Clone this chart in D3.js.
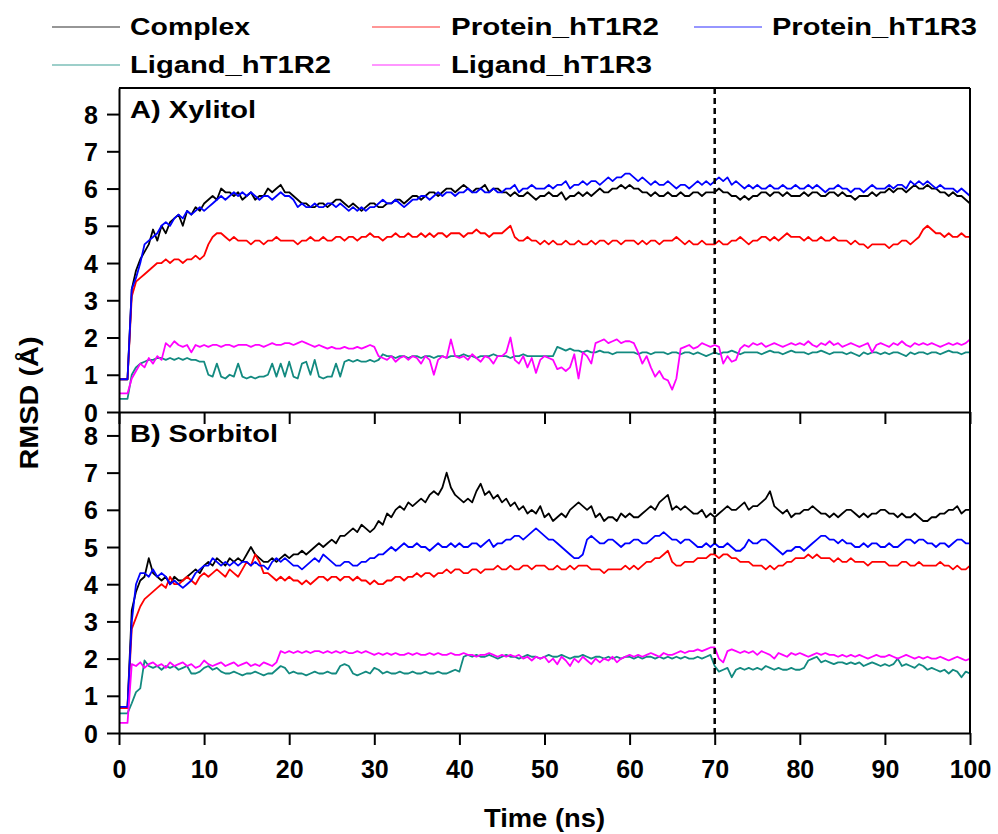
<!DOCTYPE html>
<html><head><meta charset="utf-8">
<script src="https://cdn.jsdelivr.net/npm/d3@7"></script>
<style>
body{margin:0;background:#fff}
svg{display:block}
text{font-family:"Liberation Sans",Arial,sans-serif;font-weight:bold;fill:#000}
</style>
</head><body>
<svg id="chart" width="998" height="834"></svg>
<script>
// sampling interval of every series (ns)
const timeStep = 0.5;

// ---------- Panel A: Xylitol ----------
const complexA = [
0.88,0.88,0.88,3.3,3.8,4.1,4.3,4.5,4.9,4.6,
5.0,4.8,5.1,5.2,5.3,5.0,5.4,5.3,5.5,5.4,
5.6,5.7,5.8,5.7,6.0,5.9,5.9,5.8,5.9,5.7,
5.8,5.9,5.7,5.8,5.8,6.0,5.9,6.0,6.1,5.9,
5.9,5.8,5.7,5.6,5.6,5.5,5.5,5.6,5.6,5.5,
5.6,5.7,5.7,5.6,5.5,5.6,5.5,5.4,5.5,5.6,
5.6,5.5,5.5,5.6,5.6,5.7,5.7,5.6,5.7,5.8,
5.8,5.7,5.8,5.9,5.9,5.8,5.9,6.0,6.0,5.9,
6.0,6.1,6.0,5.9,6.0,6.0,6.1,5.9,6.0,6.0,
5.9,5.9,5.8,5.9,5.8,5.8,5.9,5.8,5.7,5.8,
5.8,5.9,5.8,5.8,5.9,5.7,5.8,5.8,5.9,5.8,
5.9,5.8,5.9,6.0,5.9,5.9,6.0,6.0,6.1,6.0,
6.1,6.0,6.0,5.9,5.9,5.8,5.9,5.8,5.8,5.9,
5.8,5.8,5.9,5.8,5.8,5.9,5.9,5.8,5.9,5.9,
5.9,6.0,5.9,5.9,5.8,5.8,5.7,5.8,5.7,5.8,
5.8,5.9,5.9,5.8,5.9,5.9,5.8,5.9,5.8,5.8,
5.8,5.9,5.8,5.9,5.9,5.8,5.8,5.9,5.9,5.8,
5.9,5.8,5.8,5.7,5.8,5.8,5.8,5.9,5.8,5.9,
5.9,6.0,5.9,6.0,6.0,5.9,6.0,6.1,6.0,6.0,
6.1,6.0,6.0,5.9,5.9,5.8,5.9,5.8,5.8,5.7,
5.6];
const proteinR2A = [
0.88,0.88,0.88,3.1,3.5,3.6,3.7,3.8,3.9,4.0,
4.0,4.1,4.0,4.1,4.1,4.0,4.1,4.1,4.2,4.1,
4.2,4.5,4.7,4.8,4.8,4.7,4.6,4.7,4.6,4.6,
4.6,4.5,4.6,4.6,4.5,4.6,4.6,4.7,4.6,4.6,
4.6,4.6,4.5,4.6,4.6,4.7,4.6,4.6,4.7,4.6,
4.6,4.7,4.7,4.6,4.7,4.7,4.6,4.7,4.7,4.8,
4.7,4.7,4.6,4.7,4.7,4.8,4.7,4.7,4.8,4.7,
4.7,4.8,4.7,4.8,4.7,4.8,4.8,4.7,4.8,4.8,
4.8,4.7,4.8,4.8,4.9,4.8,4.8,4.7,4.8,4.8,
4.8,4.9,5.0,4.7,4.6,4.6,4.7,4.6,4.6,4.5,
4.6,4.5,4.6,4.5,4.5,4.6,4.5,4.5,4.6,4.5,
4.5,4.6,4.5,4.6,4.6,4.5,4.6,4.6,4.5,4.6,
4.6,4.6,4.5,4.6,4.5,4.6,4.6,4.5,4.6,4.6,
4.6,4.7,4.6,4.5,4.6,4.5,4.5,4.6,4.5,4.5,
4.5,4.6,4.5,4.5,4.6,4.6,4.7,4.6,4.5,4.6,
4.6,4.7,4.7,4.6,4.7,4.6,4.7,4.8,4.7,4.7,
4.7,4.6,4.7,4.6,4.6,4.7,4.6,4.6,4.7,4.6,
4.6,4.6,4.5,4.6,4.5,4.5,4.4,4.5,4.5,4.5,
4.5,4.4,4.5,4.5,4.6,4.6,4.5,4.6,4.7,4.9,
5.0,4.9,4.8,4.8,4.7,4.8,4.7,4.7,4.8,4.7,
4.7];
const proteinR3A = [
0.88,0.88,0.88,3.3,3.6,4.0,4.5,4.6,4.7,4.8,
5.0,5.1,5.0,5.2,5.3,5.2,5.4,5.3,5.4,5.5,
5.4,5.5,5.6,5.7,5.8,5.7,5.8,5.9,5.8,5.9,
5.8,5.9,5.8,5.7,5.8,5.8,5.7,5.8,5.9,5.8,
5.8,5.7,5.5,5.6,5.5,5.5,5.6,5.5,5.5,5.6,
5.6,5.5,5.6,5.5,5.4,5.5,5.4,5.5,5.4,5.5,
5.5,5.6,5.7,5.6,5.6,5.7,5.6,5.5,5.6,5.7,
5.7,5.8,5.8,5.7,5.8,5.9,5.8,5.9,5.9,5.8,
5.9,5.9,6.0,5.9,5.9,6.0,5.9,5.9,6.0,5.9,
5.9,6.0,6.0,6.1,5.9,6.0,6.0,6.1,6.0,6.0,
6.0,6.1,6.0,6.1,6.1,6.2,6.0,6.1,6.1,6.2,
6.1,6.2,6.2,6.1,6.2,6.3,6.2,6.3,6.3,6.4,
6.4,6.3,6.2,6.3,6.2,6.1,6.2,6.1,6.1,6.2,
6.1,6.0,6.1,6.1,6.0,6.1,6.2,6.1,6.2,6.1,
6.2,6.3,6.2,6.3,6.1,6.2,6.1,6.0,6.1,6.0,
6.1,6.0,6.0,6.1,6.0,6.0,6.1,6.0,6.0,6.1,
6.0,6.0,6.1,6.0,6.1,6.0,5.9,6.0,6.0,6.1,
6.0,6.0,5.9,6.0,6.0,5.9,6.0,6.1,6.0,6.0,
6.0,6.1,6.0,6.1,6.1,6.0,6.2,6.1,6.2,6.1,
6.2,6.1,6.0,6.1,6.0,6.0,6.0,5.9,6.0,5.9,
5.8];
const ligandR2A = [
0.35,0.35,0.35,1.0,1.2,1.3,1.35,1.4,1.4,1.45,
1.45,1.4,1.45,1.4,1.45,1.4,1.45,1.4,1.4,1.35,
1.35,1.0,0.95,1.3,0.95,0.9,1.0,0.95,1.3,0.95,
0.9,0.95,0.9,0.95,0.95,1.0,1.3,0.95,1.3,0.95,
1.35,0.95,0.9,1.3,1.35,1.0,1.4,0.95,0.9,0.95,
0.95,1.3,0.95,1.35,1.4,1.35,1.4,1.35,1.35,1.4,
1.35,1.4,1.55,1.5,1.5,1.45,1.5,1.5,1.45,1.5,
1.5,1.45,1.5,1.5,1.45,1.5,1.5,1.45,1.5,1.5,
1.5,1.55,1.5,1.5,1.45,1.5,1.5,1.5,1.55,1.5,
1.5,1.5,1.45,1.5,1.5,1.55,1.5,1.5,1.5,1.5,
1.5,1.5,1.5,1.75,1.7,1.65,1.7,1.65,1.65,1.6,
1.65,1.6,1.6,1.65,1.6,1.6,1.55,1.6,1.6,1.6,
1.6,1.6,1.55,1.6,1.6,1.55,1.6,1.6,1.6,1.55,
1.6,1.6,1.55,1.6,1.6,1.55,1.6,1.55,1.5,1.55,
1.6,1.55,1.6,1.6,1.65,1.6,1.55,1.6,1.6,1.6,
1.6,1.55,1.6,1.65,1.6,1.6,1.55,1.6,1.65,1.6,
1.6,1.6,1.55,1.6,1.6,1.65,1.6,1.55,1.6,1.6,
1.6,1.55,1.6,1.55,1.5,1.6,1.55,1.6,1.6,1.55,
1.6,1.55,1.6,1.6,1.55,1.5,1.6,1.55,1.6,1.6,
1.55,1.6,1.6,1.55,1.6,1.65,1.6,1.6,1.55,1.6,
1.6];
const ligandR3A = [
0.5,0.5,0.5,0.9,1.1,1.3,1.2,1.45,1.3,1.5,
1.4,1.85,1.75,1.9,1.8,1.75,1.8,1.6,1.8,1.75,
1.8,1.75,1.8,1.8,1.75,1.8,1.8,1.75,1.8,1.8,
1.8,1.75,1.8,1.8,1.75,1.8,1.85,1.8,1.8,1.85,
1.85,1.8,1.85,1.9,1.85,1.8,1.75,1.8,1.75,1.7,
1.75,1.7,1.7,1.75,1.7,1.7,1.75,1.7,1.75,1.8,
1.75,1.5,1.45,1.4,1.5,1.35,1.45,1.5,1.4,1.5,
1.45,1.3,1.5,1.4,1.0,1.4,1.5,1.45,1.95,1.5,
1.45,1.5,1.4,1.55,1.45,1.35,1.5,1.45,1.3,1.5,
1.5,1.6,2.0,1.4,1.3,1.5,1.2,1.45,1.05,1.4,
1.5,1.45,1.4,1.15,1.2,1.1,1.2,1.55,0.9,1.6,
1.5,1.3,1.85,1.9,1.95,1.85,1.9,1.95,1.85,1.9,
1.9,1.85,1.6,1.3,1.5,1.2,0.95,1.1,0.9,0.85,
0.6,0.9,1.7,1.75,1.8,1.7,1.75,1.85,1.8,1.75,
1.8,1.75,1.3,1.5,1.35,1.4,1.7,1.8,1.75,1.85,
1.8,1.85,1.75,1.8,1.85,1.8,1.75,1.8,1.85,1.8,
1.85,1.8,1.9,1.8,1.75,1.85,1.8,1.9,1.8,1.85,
1.75,1.8,1.85,1.8,1.75,1.8,1.85,1.6,1.8,1.85,
1.8,1.75,1.85,1.8,1.9,1.8,1.75,1.85,1.8,1.85,
1.8,1.85,1.8,1.75,1.8,1.85,1.8,1.85,1.8,1.85,
1.95];

// ---------- Panel B: Sorbitol ----------
const complexB = [
0.7,0.7,0.7,3.3,3.8,4.1,4.2,4.7,4.3,4.2,
4.1,4.2,4.0,4.2,4.1,4.1,4.2,4.3,4.4,4.3,
4.5,4.6,4.5,4.7,4.6,4.5,4.7,4.6,4.7,4.6,
4.8,5.0,4.8,4.7,4.6,4.6,4.7,4.6,4.7,4.8,
4.7,4.8,4.8,4.9,4.8,4.9,5.0,5.1,5.0,5.1,
5.2,5.1,5.3,5.3,5.4,5.5,5.4,5.6,5.5,5.4,
5.5,5.7,5.6,5.9,5.8,6.0,6.1,6.0,6.2,6.1,
6.2,6.3,6.2,6.4,6.5,6.4,6.6,7.0,6.6,6.4,
6.3,6.2,6.3,6.2,6.5,6.7,6.4,6.5,6.3,6.4,
6.2,6.3,6.1,6.2,6.0,6.1,5.9,6.0,5.9,6.1,
5.8,5.9,5.7,5.8,5.9,5.8,6.0,6.1,6.2,6.1,
6.0,6.1,5.8,5.9,5.7,5.8,5.8,5.7,5.9,5.8,
5.9,5.8,5.8,5.9,6.0,6.1,6.0,6.2,6.3,6.4,
6.0,6.1,6.0,6.1,6.0,5.9,5.9,6.0,5.8,5.9,
5.8,5.9,6.0,6.1,6.0,6.0,6.1,6.2,6.0,6.1,
6.1,6.2,6.3,6.5,6.1,6.0,5.9,6.0,5.8,5.9,
5.9,6.0,6.0,6.1,6.0,5.9,5.9,5.8,5.9,5.8,
5.9,6.0,6.0,5.9,5.8,5.9,5.8,5.9,5.9,6.0,
6.0,5.9,5.9,5.8,5.9,5.8,5.8,5.9,5.8,5.7,
5.7,5.8,5.8,5.9,5.9,6.0,6.0,6.1,5.9,6.0,
6.0];
const proteinR2B = [
0.67,0.67,0.67,2.8,3.1,3.4,3.6,3.7,3.8,3.9,
4.0,3.9,4.2,4.0,4.0,4.1,4.2,4.1,4.0,4.2,
4.3,4.2,4.3,4.4,4.3,4.2,4.4,4.3,4.2,4.4,
4.6,4.5,4.8,4.6,4.3,4.3,4.2,4.1,4.2,4.1,
4.2,4.1,4.1,4.0,4.1,4.0,4.1,4.2,4.2,4.1,
4.2,4.2,4.1,4.2,4.2,4.1,4.2,4.1,4.1,4.0,
4.1,4.0,4.0,4.1,4.1,4.2,4.2,4.1,4.2,4.2,
4.3,4.2,4.3,4.3,4.2,4.3,4.3,4.4,4.3,4.4,
4.4,4.3,4.3,4.4,4.4,4.3,4.4,4.4,4.4,4.5,
4.4,4.4,4.5,4.4,4.4,4.5,4.5,4.4,4.5,4.5,
4.5,4.4,4.4,4.5,4.4,4.4,4.5,4.4,4.5,4.5,
4.5,4.4,4.4,4.4,4.3,4.4,4.4,4.4,4.4,4.5,
4.4,4.5,4.4,4.5,4.6,4.6,4.7,4.7,4.8,4.9,
4.6,4.5,4.5,4.6,4.6,4.6,4.7,4.7,4.7,4.8,
4.8,4.7,4.8,4.8,4.7,4.7,4.6,4.6,4.6,4.5,
4.5,4.5,4.4,4.5,4.4,4.5,4.5,4.6,4.6,4.7,
4.7,4.7,4.8,4.7,4.8,4.7,4.7,4.7,4.6,4.7,
4.6,4.6,4.7,4.6,4.6,4.6,4.5,4.6,4.6,4.6,
4.6,4.5,4.5,4.5,4.6,4.6,4.5,4.5,4.6,4.5,
4.5,4.5,4.5,4.6,4.5,4.5,4.4,4.5,4.4,4.4,
4.5];
const proteinR3B = [
0.7,0.7,0.7,3.0,4.0,4.3,4.3,4.2,4.4,4.2,
4.3,4.2,4.0,4.1,4.0,3.9,4.0,4.1,4.3,4.4,
4.5,4.5,4.7,4.6,4.5,4.6,4.5,4.6,4.5,4.6,
4.6,4.5,4.6,4.5,4.5,4.4,4.6,4.7,4.6,4.7,
4.6,4.5,4.5,4.4,4.5,4.6,4.7,4.6,4.8,4.7,
4.6,4.5,4.5,4.6,4.6,4.5,4.5,4.6,4.6,4.7,
4.7,4.8,4.8,4.9,5.0,4.9,5.0,5.1,5.0,5.0,
5.1,5.0,5.0,4.9,5.0,5.1,5.0,5.0,5.1,5.0,
5.1,5.0,5.0,5.1,5.1,5.0,5.1,5.2,5.0,5.1,
5.1,5.2,5.2,5.3,5.3,5.2,5.3,5.4,5.5,5.4,
5.3,5.2,5.2,5.1,5.0,4.9,4.8,4.7,4.7,4.8,
5.2,5.3,5.2,5.1,5.1,5.2,5.2,5.1,5.0,5.1,
5.1,5.2,5.2,5.1,5.1,5.2,5.3,5.3,5.4,5.3,
5.2,5.2,5.1,5.2,5.2,5.1,5.0,5.0,5.1,5.0,
5.1,5.0,5.0,5.1,5.0,4.9,4.9,5.0,5.2,5.1,
5.1,5.2,5.2,5.1,5.0,4.9,4.8,4.9,4.9,5.0,
5.0,4.9,5.0,5.1,5.2,5.3,5.3,5.2,5.2,5.1,
5.2,5.1,5.1,5.0,5.0,5.1,5.0,5.1,5.1,5.0,
5.0,5.1,5.0,5.0,5.1,5.2,5.2,5.1,5.2,5.2,
5.1,5.1,5.0,5.1,5.1,5.0,5.1,5.2,5.2,5.1,
5.1];
const ligandR2B = [
0.53,0.53,0.53,0.8,1.1,1.2,1.95,1.8,1.75,1.8,
1.7,1.8,1.75,1.8,1.7,1.75,1.8,1.6,1.6,1.65,
1.75,1.8,1.7,1.75,1.65,1.6,1.6,1.65,1.6,1.55,
1.6,1.6,1.65,1.6,1.55,1.6,1.6,1.7,1.8,1.75,
1.6,1.65,1.6,1.6,1.55,1.6,1.65,1.6,1.6,1.65,
1.6,1.6,1.8,1.85,1.8,1.6,1.55,1.6,1.65,1.6,
1.75,1.7,1.6,1.65,1.6,1.6,1.65,1.6,1.6,1.65,
1.6,1.6,1.65,1.6,1.6,1.65,1.6,1.6,1.65,1.7,
1.65,2.05,2.1,2.05,2.1,2.05,2.05,2.1,2.05,2.0,
2.05,2.1,2.05,2.05,2.0,2.05,2.1,2.05,2.05,2.0,
2.05,2.1,2.05,2.05,2.1,2.05,2.0,2.05,2.05,2.1,
2.05,2.0,2.05,2.05,2.0,2.05,2.0,2.05,2.0,2.05,
2.05,2.0,2.05,2.0,2.05,2.05,2.0,2.05,2.0,2.05,
2.0,2.05,2.0,2.05,2.0,2.0,2.05,2.0,2.05,2.1,
1.8,1.65,1.7,1.75,1.5,1.7,1.75,1.7,1.75,1.7,
1.75,1.7,1.8,1.75,1.7,1.75,1.7,1.7,1.75,1.7,
1.7,1.75,1.95,2.0,2.05,1.9,1.95,1.9,1.85,1.9,
1.9,1.85,1.9,1.85,1.9,1.8,1.85,1.9,1.85,1.8,
1.85,1.8,1.85,2.0,1.8,1.85,1.8,1.75,1.85,1.8,
1.7,1.75,1.7,1.65,1.7,1.6,1.7,1.65,1.5,1.65,
1.6];
const ligandR3B = [
0.27,0.27,0.27,1.85,1.8,1.9,1.75,1.85,1.9,1.8,
1.85,1.75,1.9,1.8,1.85,1.9,1.8,1.85,1.75,1.8,
1.95,1.85,1.8,1.85,1.9,1.8,1.85,1.9,1.8,1.85,
1.9,1.8,1.85,1.8,1.9,1.85,1.8,1.9,2.2,2.15,
2.2,2.15,2.2,2.15,2.2,2.15,2.2,2.2,2.15,2.2,
2.15,2.2,2.15,2.2,2.15,2.15,2.2,2.15,2.2,2.15,
2.1,2.15,2.1,2.15,2.1,2.15,2.1,2.1,2.15,2.1,
2.15,2.1,2.1,2.15,2.1,2.15,2.1,2.1,2.15,2.1,
2.1,2.15,2.1,2.1,2.05,2.1,2.1,2.15,2.1,2.05,
2.1,2.05,2.1,2.05,2.1,2.0,2.05,1.95,2.05,2.0,
2.05,1.9,2.0,1.85,2.05,1.95,1.8,2.0,1.9,2.05,
1.95,1.85,2.0,1.9,2.0,1.95,2.05,1.9,2.0,2.05,
2.1,2.05,2.1,2.05,2.1,2.15,2.1,2.05,2.15,2.1,
2.1,2.15,2.2,2.15,2.2,2.2,2.25,2.2,2.25,2.3,
2.3,2.0,1.9,2.2,2.25,2.2,2.15,2.2,2.15,2.2,
2.1,2.2,2.15,2.1,2.0,2.15,2.1,2.05,2.15,2.1,
2.15,2.1,2.05,2.1,2.15,2.1,2.15,2.1,2.1,2.05,
2.1,2.05,2.1,2.05,2.1,2.05,2.0,2.05,2.1,2.05,
2.05,2.1,2.05,2.0,2.05,2.1,2.05,2.0,2.05,2.0,
2.05,2.0,2.0,2.05,2.0,1.95,2.0,2.05,2.0,1.95,
2.0];

// ---------- labels & ticks ----------
const seriesNames  = ["Complex","Protein_hT1R2","Protein_hT1R3","Ligand_hT1R2","Ligand_hT1R3"];
const seriesColors = ["#000000","#ff0000","#0000ff","#138a80","#ff00ff"];
const panelLabels  = ["A) Xylitol","B) Sorbitol"];
const xTickValues  = [0,10,20,30,40,50,60,70,80,90,100];
const yTickValues  = [0,1,2,3,4,5,6,7,8];
const markerTime   = 70;
const xTitle = "Time (ns)";
const yTitle = "RMSD (Å)";

const panels = [
  {label: panelLabels[0], series: [complexA, proteinR2A, proteinR3A, ligandR2A, ligandR3A]},
  {label: panelLabels[1], series: [complexB, proteinR2B, proteinR3B, ligandR2B, ligandR3B]}
];

// ---------- layout ----------
const svg = d3.select("#chart");
const left = 119, right = 970;
const panelBox = [{top: 88, bottom: 412, max: 8.7}, {top: 412, bottom: 733, max: 8.63}];

const x = d3.scaleLinear().domain([0, 100]).range([left, right]);

panels.forEach((p, pi) => {
  const box = panelBox[pi];
  const y = d3.scaleLinear().domain([0, box.max]).range([box.bottom, box.top]);
  const g = svg.append("g");

  const line = d3.line()
    .x((d, i) => x(i * timeStep))
    .y(d => y(d));

  p.series.forEach((s, si) => {
    g.append("path")
      .datum(s)
      .attr("d", line)
      .attr("fill", "none")
      .attr("stroke", seriesColors[si])
      .attr("stroke-width", 1.8)
      .attr("stroke-linejoin", "round");
  });

  // left axis
  const ya = g.append("g")
    .attr("transform", `translate(${left},0)`)
    .call(d3.axisLeft(y).tickValues(yTickValues).tickSize(12).tickSizeOuter(0).tickPadding(9).tickFormat(d3.format("d")));
  ya.selectAll("text").attr("font-size", 25).attr("font-family", null).attr("dy", "0.36em");

  // bottom axis
  const xa = g.append("g")
    .attr("transform", `translate(0,${box.bottom})`)
    .call(d3.axisBottom(x).tickValues(xTickValues).tickSize(12).tickSizeOuter(0).tickPadding(15)
      .tickFormat(pi === 1 ? d3.format("d") : () => ""));
  xa.selectAll("text").attr("font-size", 25).attr("font-family", null);

  [ya, xa].forEach(a => {
    a.attr("font-family", null).attr("font-size", null);
    a.selectAll("path,line").attr("stroke", "#000").attr("stroke-width", 2);
  });

  // top and right frame
  if (pi === 0) {
    g.append("line").attr("x1", left).attr("x2", right).attr("y1", box.top).attr("y2", box.top)
      .attr("stroke", "#000").attr("stroke-width", 2);
  }
  g.append("line").attr("x1", right).attr("x2", right).attr("y1", box.top).attr("y2", box.bottom)
    .attr("stroke", "#000").attr("stroke-width", 2);

  // panel label
  g.append("text")
    .attr("x", 130).attr("y", box.top + 30)
    .attr("font-size", 24)
    .attr("textLength", pi === 0 ? 126 : 148).attr("lengthAdjust", "spacingAndGlyphs")
    .text(p.label);
});

// dashed marker at 70 ns
svg.append("line")
  .attr("x1", x(markerTime)).attr("x2", x(markerTime))
  .attr("y1", panelBox[0].top).attr("y2", panelBox[1].bottom)
  .attr("stroke", "#000").attr("stroke-width", 2.5).attr("stroke-dasharray", "6,4");

// axis titles
svg.append("text").attr("x", (left + right) / 2).attr("y", 827)
  .attr("text-anchor", "middle").attr("font-size", 25)
  .attr("textLength", 121).attr("lengthAdjust", "spacingAndGlyphs")
  .text(xTitle);
svg.append("text").attr("transform", "translate(38,403) rotate(-90)")
  .attr("text-anchor", "middle").attr("font-size", 25)
  .attr("textLength", 133).attr("lengthAdjust", "spacingAndGlyphs")
  .text(yTitle);

// legend
const legendPos = [
  {lx: 52, tx: 130, y: 27, w: 120},
  {lx: 372, tx: 451, y: 27, w: 208},
  {lx: 694, tx: 772, y: 27, w: 205},
  {lx: 52, tx: 130, y: 65, w: 201},
  {lx: 372, tx: 451, y: 65, w: 201}
];
seriesNames.forEach((name, i) => {
  const lp = legendPos[i];
  svg.append("line").attr("x1", lp.lx).attr("x2", lp.lx + 68).attr("y1", lp.y).attr("y2", lp.y)
    .attr("stroke", seriesColors[i]).attr("stroke-width", 1.5).attr("stroke-opacity", 0.55);
  svg.append("text").attr("x", lp.tx).attr("y", lp.y + 8).attr("font-size", 24)
    .attr("textLength", lp.w).attr("lengthAdjust", "spacingAndGlyphs")
    .text(name);
});
</script>
</body></html>
